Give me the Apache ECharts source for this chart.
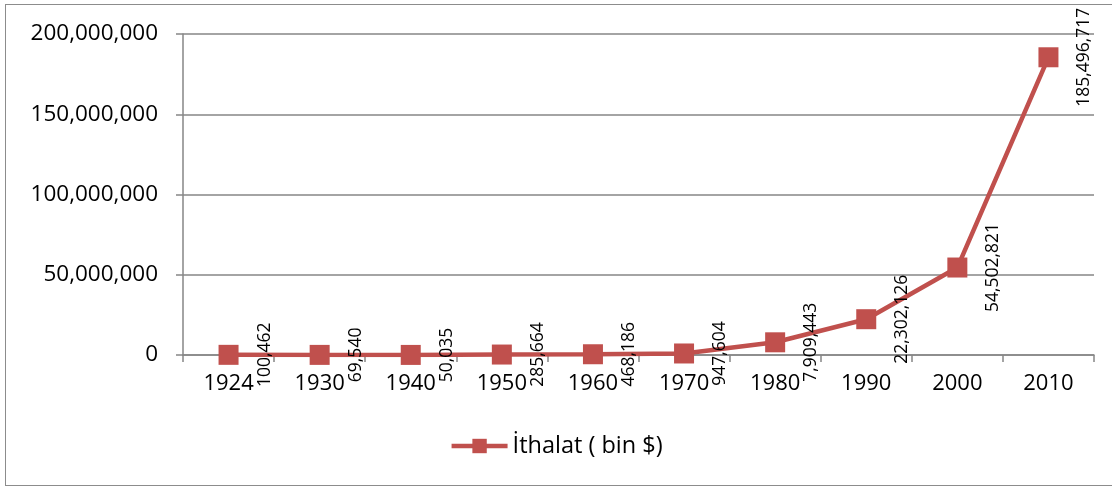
<!DOCTYPE html>
<html>
<head>
<meta charset="utf-8">
<script src="https://cdn.jsdelivr.net/npm/echarts@6/dist/echarts.min.js"></script>
<style>
  html, body { margin: 0; padding: 0; background: #fff; overflow: hidden; }
  #frame {
    position: absolute; left: 5px; top: 4px; width: 1107px; height: 482px;
    border: 1.5px solid #8c8c8c; border-right: none; box-sizing: border-box;
  }
  #chart { position: absolute; left: 0; top: 0; width: 1112px; height: 487px; }
</style>
</head>
<body>
<div id="frame"></div>
<div id="chart"></div>
<script>
  // yillar ve ithalat degerleri (bin $)
  const years = ['1924', '1930', '1940', '1950', '1960', '1970', '1980', '1990', '2000', '2010'];
  const imports = [100462, 69540, 50035, 285664, 468186, 947604, 7909443, 22302126, 54502821, 185496717];
  const seriesName = 'İthalat ( bin $)';

  const red = '#c0504d';
  const axisGray = '#868686';
  const font = 'Open Sans, Liberation Sans, sans-serif';

  const fmt = v => v.toLocaleString('en-US');

  const myChart = echarts.init(document.getElementById('chart'));
  const option = {
    animation: false,
    grid: { left: 183, right: 18, top: 34, bottom: 132 },
    legend: {
      data: [seriesName],
      bottom: 24,
      left: 'center',
      itemWidth: 56,
      itemHeight: 18,
      itemGap: 4,
      lineStyle: { width: 4.5 },
      textStyle: { fontSize: 23.5, color: '#000', fontFamily: font }
    },
    xAxis: {
      type: 'category',
      data: years,
      boundaryGap: true,
      axisLine: { lineStyle: { color: axisGray, width: 1.5 } },
      axisTick: { show: true, length: 7, lineStyle: { color: axisGray, width: 1.5 } },
      axisLabel: { fontSize: 22, color: '#000', fontFamily: font, margin: 18 }
    },
    yAxis: {
      type: 'value',
      min: 0,
      max: 200000000,
      interval: 50000000,
      axisLine: { show: true, lineStyle: { color: axisGray, width: 1.5 } },
      axisTick: { show: true, length: 7, lineStyle: { color: axisGray, width: 1.5 } },
      splitLine: { lineStyle: { color: axisGray, width: 1.5 } },
      axisLabel: { fontSize: 22.5, color: '#000', fontFamily: font, margin: 25, formatter: fmt }
    },
    series: [{
      name: seriesName,
      type: 'line',
      data: imports,
      symbol: 'rect',
      symbolSize: 20,
      lineStyle: { color: red, width: 4.5 },
      itemStyle: { color: red },
      label: {
        show: true,
        position: 'right',
        distance: 26,
        rotate: 90,
        align: 'center',
        verticalAlign: 'middle',
        fontSize: 17.5,
        color: '#000',
        fontFamily: font,
        formatter: p => fmt(p.value)
      }
    }]
  };
  myChart.setOption(option);
</script>
</body>
</html>
